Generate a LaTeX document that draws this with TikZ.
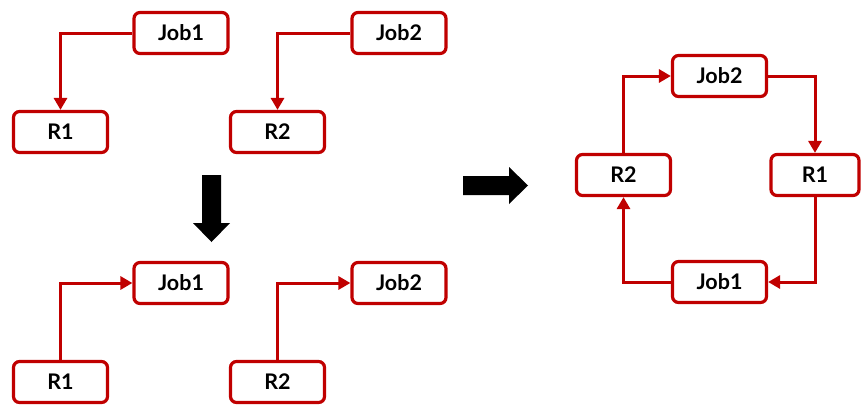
\documentclass[tikz,border=0pt]{standalone}
\usepackage{fontspec}
\setmainfont{Lato}
\usetikzlibrary{arrows.meta}
\definecolor{boxred}{HTML}{C00000}
\tikzset{
  box/.style={draw=boxred, line width=3.2pt, rounded corners=6pt, fill=white,
    minimum width=94pt, minimum height=41pt, inner sep=0pt,
    font=\fontsize{21.5pt}{24pt}\selectfont\bfseries},
  link/.style={draw=boxred, line width=3pt, -{Triangle[length=12pt,width=13pt]}},
  bigarrow/.style={fill=black, draw=none}
}
\begin{document}
\begin{tikzpicture}[x=1pt, y=-1pt]
\useasboundingbox (0,0) rectangle (862,405);
% top-left group
\node[box] (ja) at (181,33) {Job1};
\node[box] (ra) at (60.5,132) {R1};
\node[box] (jb) at (399,33) {Job2};
\node[box] (rb) at (277.5,132) {R2};
\draw[link] (ja.west) -| (ra.north);
\draw[link] (jb.west) -| (rb.north);
% down arrow
\fill[bigarrow] (202,175) -- (221,175) -- (221,223) -- (230,223) -- (211.5,242) -- (193,223) -- (202,223) -- cycle;
% bottom-left group
\node[box] (jc) at (181,283) {Job1};
\node[box] (rc) at (60.5,382) {R1};
\node[box] (jd) at (399,283) {Job2};
\node[box] (rd) at (277.5,382) {R2};
\draw[link] (rc.north) |- (jc.west);
\draw[link] (rd.north) |- (jd.west);
% right arrow
\fill[bigarrow] (463,176) -- (509,176) -- (509,167) -- (528,185.5) -- (509,204) -- (509,195) -- (463,195) -- cycle;
% cycle on right
\node[box] (je) at (719.5,76) {Job2};
\node[box] (re) at (623.5,175) {R2};
\node[box, minimum width=88pt] (rf) at (815,175) {R1};
\node[box] (jf) at (719.5,282) {Job1};
\draw[link] (re.north) |- (je.west);
\draw[link] (je.east) -| (rf.north);
\draw[link] (rf.south) |- (jf.east);
\draw[link] (jf.west) -| (re.south);
\end{tikzpicture}
\end{document}
